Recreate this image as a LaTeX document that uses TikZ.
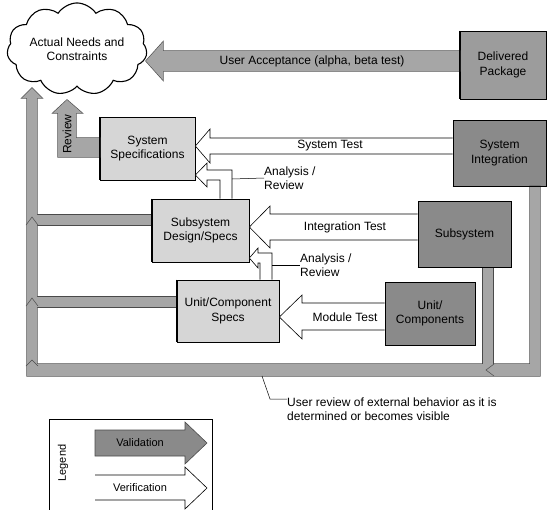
\documentclass[tikz,border=0pt]{standalone}
\usepackage{fontspec}
\setmainfont{Liberation Sans}
\usetikzlibrary{shapes.symbols}
\definecolor{valgray}{HTML}{A6A6A6}
\definecolor{lightbox}{HTML}{D6D6D6}
\definecolor{darkbox}{HTML}{8A8A8A}
\definecolor{edgegray}{HTML}{4A4A4A}
\tikzset{
  lbl/.style={font=\fontsize{12}{14.5}\selectfont, align=center, inner sep=0pt},
  smalllbl/.style={font=\fontsize{11}{13}\selectfont, align=center, inner sep=0pt},
  lightstep/.style={draw=black, line width=0.7pt, fill=lightbox, lbl},
  darkstep/.style={draw=black, line width=0.7pt, fill=darkbox, lbl},
  validedge/.style={draw=edgegray, line width=1.3pt},
  validfill/.style={fill=valgray},
  verif/.style={fill=white, draw=black, line width=0.6pt},
  leader/.style={draw=black, line width=0.5pt},
  chev/.style={draw=edgegray, line width=0.5pt},
}
\begin{document}
\begin{tikzpicture}[x=1pt,y=-1pt]
\useasboundingbox (0,0) rectangle (548,509);

% ---------- boxes ----------
\node[cloud, draw=black, line width=1.1pt, fill=white, cloud puffs=11, cloud puff arc=115, aspect=1.8,
      minimum width=137pt, minimum height=76pt, lbl] (needs) at (77,49) {Actual Needs and\\Constraints};
\node[darkstep, fill=darkbox!85!white, minimum width=86pt, minimum height=68pt] (deliv) at (503,65) {Delivered\\Package};
\node[lightstep, minimum width=95pt, minimum height=63pt] (sysspec) at (147.5,148.5) {System\\Specifications};
\node[darkstep, minimum width=93pt, minimum height=66pt] (sysint) at (499.5,153) {System\\Integration};
\node[lightstep, minimum width=97pt, minimum height=63pt] (subdes) at (200.5,230.5) {Subsystem\\Design/Specs};
\node[darkstep, minimum width=93pt, minimum height=66pt] (subsys) at (464.5,234) {Subsystem};
\node[lightstep, minimum width=102pt, minimum height=62pt] (unitspec) at (228,311) {Unit/Component\\Specs};
\node[darkstep, minimum width=90pt, minimum height=63pt] (unitcomp) at (430,313.5) {Unit/\\Components};

% ---------- validation arrows (paths) ----------
\path[save path=\pUA] (deliv.west |- 0,51) -- (163,51) -- (163,42) -- (146,61) -- (163,80) -- (163,71) -- (deliv.west |- 0,71) -- cycle;
\path[save path=\pRev] (sysspec.west |- 0,138) -- (76,138) -- (76,113) -- (82,113) -- (67,100) -- (53,113) -- (58,113) -- (58,157) -- (sysspec.west |- 0,157) -- cycle;
\path[save path=\pSD] (subdes.west |- 0,215) -- (32,215) -- (32,225) -- (subdes.west |- 0,225) -- cycle;
\path[save path=\pUS] (unitspec.west |- 0,297) -- (32,297) -- (32,307) -- (unitspec.west |- 0,307) -- cycle;
\path[save path=\pSS] (subsys.south -| 483,0) -- (483,370) -- (493,370) -- (subsys.south -| 493,0) -- cycle;
\coordinate (looptip) at (32,88);
\path[save path=\pLoop] (looptip) -- (42,98) -- (37,98) -- (37,364) -- (530,364)
      -- (sysint.south -| 530,0) -- (sysint.south -| 540,0) -- (540,376) -- (27,376) -- (27,98) -- (22,98) -- cycle;

% outlines first, then fills over them so junctions merge
\draw[validedge, use path=\pUA];
\draw[validedge, use path=\pRev];
\draw[validedge, use path=\pSD];
\draw[validedge, use path=\pUS];
\draw[validedge, use path=\pSS];
\draw[validedge, use path=\pLoop];
\fill[validfill, use path=\pUA];
\fill[validfill, use path=\pRev];
\fill[validfill, use path=\pSD];
\fill[validfill, use path=\pUS];
\fill[validfill, use path=\pSS];
\fill[validfill, use path=\pLoop];
% redraw box borders touched by the bars
\draw[black, line width=0.7pt] (deliv.north west) -- (deliv.south west);
\draw[black, line width=0.7pt] (sysspec.north west) -- (sysspec.south west);
\draw[black, line width=0.7pt] (subdes.north west) -- (subdes.south west);
\draw[black, line width=0.7pt] (unitspec.north west) -- (unitspec.south west);
\draw[black, line width=0.7pt] (subsys.south west) -- (subsys.south east);
\draw[black, line width=0.7pt] (sysint.south west) -- (sysint.south east);

% junction chevrons
\draw[chev] (26,225) -- (32,217) -- (38,225);
\draw[chev] (26,306) -- (32,298) -- (38,306);
\draw[chev] (494,364) -- (486,370) -- (494,376);
\draw[chev] (26,366) -- (32,360) -- (38,366);

\node[lbl] (uatext) at (312,61) {User Acceptance (alpha, beta test)};
\node[lbl, rotate=90] (reviewtext) at (67,134) {Review};

% ---------- verification arrows ----------
\draw[verif] (sysint.west |- 0,138) -- (210,138) -- (210,129) -- (sysspec.east |- 0,146) -- (210,163) -- (210,154) -- (sysint.west |- 0,154);
\node[lbl] (sttext) at (330,146) {System Test};

\draw[verif] (subsys.west |- 0,214) -- (270,214) -- (270,206) -- (subdes.east |- 0,227) -- (270,248) -- (270,240) -- (subsys.west |- 0,240);
\node[lbl] (ittext) at (345,227) {Integration Test};

\draw[verif] (unitcomp.west |- 0,303) -- (302,303) -- (302,295) -- (unitspec.east |- 0,317) -- (302,339) -- (302,330) -- (unitcomp.west |- 0,330);
\node[lbl, fill=white, inner sep=1pt] (mttext) at (345,317) {Module Test};

% analysis / review 1
\draw[verif] (subdes.north -| 220,0) -- (220,180) -- (207,180) -- (207,187) -- (sysspec.east |- 0,175) -- (207,163) -- (207,170) -- (232,170) -- (subdes.north -| 232,0);
\node[lbl, align=left, anchor=west] (ar1) at (264,178) {Analysis /\\Review};
\draw[leader] (232,179) -- (ar1.west);

% analysis / review 2
\draw[verif] (unitspec.north -| 260,0) -- (260,263) -- (258,263) -- (258,268) -- (subdes.east |- 0,258) -- (258,248) -- (258,253) -- (272,253) -- (unitspec.north -| 272,0);
\node[lbl, align=left, anchor=west] (ar2) at (300,265) {Analysis /\\Review};
\draw[leader] (272,265) -- (ar2.west);

% ---------- caption ----------
\node[lbl, align=left, anchor=west] (caption) at (287,409) {User review of external behavior as it is\\determined or becomes visible};
\coordinate (capstart) at (262,376);
\draw[leader] (capstart) -- (270,399) -- (caption.west |- 0,399);

% ---------- legend ----------
\draw[black, line width=0.6pt] (49,515) -- (49,419) -- (212,419) -- (212,515);
\node[smalllbl, rotate=90] (legtext) at (63,463) {Legend};
\draw[draw=edgegray, line width=0.6pt, fill=darkbox] (95,430) -- (185,430) -- (185,422) -- (207,443) -- (185,464) -- (185,456) -- (95,456) -- cycle;
\node[smalllbl] (valtext) at (140,443) {Validation};
\draw[verif] (95,475) -- (185,475) -- (185,467) -- (207,488) -- (185,509) -- (185,500) -- (95,500);
\node[smalllbl] (vertext) at (140,488) {Verification};
\end{tikzpicture}
\end{document}
